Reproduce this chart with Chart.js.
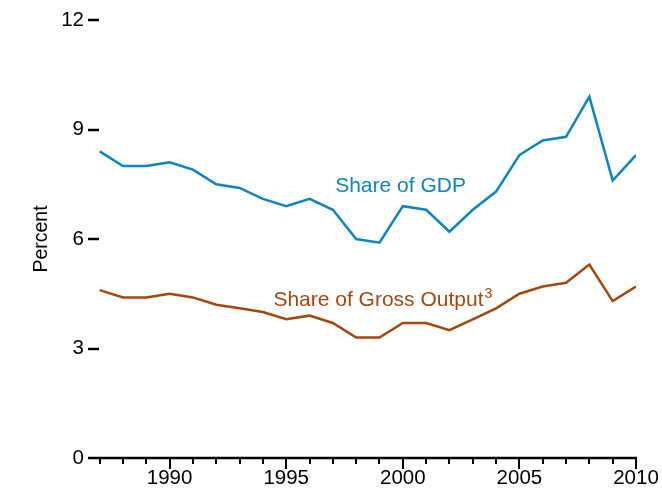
<!DOCTYPE html>
<html>
<head>
<meta charset="utf-8">
<script src="https://cdn.jsdelivr.net/npm/chart.js@4.4.1/dist/chart.umd.min.js"></script>
<style>
    html, body { margin: 0; padding: 0; background: #fff; }
    #wrap { width: 662px; height: 495px; }
</style>
</head>
<body>
<div id="wrap"><canvas id="chart" width="662" height="495"></canvas></div>
<script>
// Dados do gráfico
const years = [1987, 1988, 1989, 1990, 1991, 1992, 1993, 1994, 1995, 1996, 1997, 1998,
    1999, 2000, 2001, 2002, 2003, 2004, 2005, 2006, 2007, 2008, 2009, 2010];
const shareGDP = [8.4, 8.0, 8.0, 8.1, 7.9, 7.5, 7.4, 7.1, 6.9, 7.1, 6.8, 6.0,
    5.9, 6.9, 6.8, 6.2, 6.8, 7.3, 8.3, 8.7, 8.8, 9.9, 7.6, 8.3];
const shareGrossOutput = [4.6, 4.4, 4.4, 4.5, 4.4, 4.2, 4.1, 4.0, 3.8, 3.9, 3.7, 3.3,
    3.3, 3.7, 3.7, 3.5, 3.8, 4.1, 4.5, 4.7, 4.8, 5.3, 4.3, 4.7];
const yTicks = [0, 3, 6, 9, 12];

const BLUE = '#0b84c3';
const BROWN = '#a4470d';
const FONT = 'Liberation Sans, Arial, sans-serif';

// Rótulos das séries, em coordenadas de dados
const seriesLabels = [
    { text: 'Share of GDP', sup: '', x: 1997.1, y: 7.46, color: BLUE },
    { text: 'Share of Gross Output', sup: '3', x: 1994.45, y: 4.32, color: BROWN }
];

// Eixos desenhados à mão (linha do eixo x e marcas)
const axisPlugin = {
    id: 'axisPlugin',
    afterDraw(chart) {
        const ctx = chart.ctx;
        const xs = chart.scales.x;
        const ys = chart.scales.y;
        const y0 = ys.getPixelForValue(0);
        ctx.save();
        ctx.strokeStyle = '#000';
        ctx.lineWidth = 2.5;
        ctx.beginPath();
        ctx.moveTo(xs.left, y0);
        ctx.lineTo(xs.right + 1, y0);
        ctx.stroke();

        ctx.lineWidth = 2;
        years.forEach(yr => {
            const px = Math.round(xs.getPixelForValue(yr));
            const len = yr % 5 === 0 ? 11 : 6;
            ctx.beginPath();
            ctx.moveTo(px, y0);
            ctx.lineTo(px, y0 + len);
            ctx.stroke();
        });

        ctx.lineWidth = 2.5;
        yTicks.forEach(v => {
            if (v === 0) return;
            const py = Math.round(ys.getPixelForValue(v));
            ctx.beginPath();
            ctx.moveTo(xs.left, py);
            ctx.lineTo(xs.left + 11, py);
            ctx.stroke();
        });

        // Rótulos das linhas
        ctx.textBaseline = 'middle';
        ctx.textAlign = 'left';
        seriesLabels.forEach(l => {
            const px = xs.getPixelForValue(l.x);
            const py = ys.getPixelForValue(l.y);
            ctx.fillStyle = l.color;
            ctx.font = '21px ' + FONT;
            ctx.fillText(l.text, px, py);
            if (l.sup) {
                const w = ctx.measureText(l.text).width;
                ctx.font = '14px ' + FONT;
                ctx.fillText(l.sup, px + w + 1, py - 6);
            }
        });
        ctx.restore();
    }
};

function toPoints(values) {
    return years.map((yr, i) => ({ x: yr, y: values[i] }));
}

new Chart(document.getElementById('chart'), {
    type: 'line',
    data: {
        datasets: [
            {
                label: 'Share of GDP',
                data: toPoints(shareGDP),
                borderColor: BLUE,
                borderWidth: 2.5,
                pointRadius: 0,
                tension: 0
            },
            {
                label: 'Share of Gross Output',
                data: toPoints(shareGrossOutput),
                borderColor: BROWN,
                borderWidth: 2.5,
                pointRadius: 0,
                tension: 0
            }
        ]
    },
    options: {
        responsive: false,
        animation: false,
        layout: { padding: { top: 20, right: 26, bottom: 0, left: 0 } },
        plugins: {
            legend: { display: false },
            tooltip: { enabled: false }
        },
        scales: {
            x: {
                type: 'linear',
                min: 1986.5,
                max: 2010,
                afterBuildTicks(scale) {
                    scale.ticks = years.map(v => ({ value: v }));
                },
                afterFit(scale) {
                    scale.height = 37;
                    scale.paddingRight = 0;
                    scale.paddingLeft = 0;
                },
                ticks: {
                    autoSkip: false,
                    maxRotation: 0,
                    padding: 8,
                    color: '#000',
                    font: { family: FONT, size: 20.5 },
                    callback: v => (v % 5 === 0 ? String(v) : '')
                },
                grid: { display: false, drawTicks: false },
                border: { display: false }
            },
            y: {
                min: 0,
                max: 12,
                afterBuildTicks(scale) {
                    scale.ticks = yTicks.map(v => ({ value: v }));
                },
                afterFit(scale) {
                    scale.width = 88;
                },
                ticks: {
                    padding: 4,
                    color: '#000',
                    font: { family: FONT, size: 20.5 }
                },
                title: {
                    display: true,
                    text: 'Percent',
                    color: '#000',
                    font: { family: FONT, size: 19.5 },
                    padding: { top: 30, bottom: 0 }
                },
                grid: { display: false, drawTicks: false },
                border: { display: false }
            }
        }
    },
    plugins: [axisPlugin]
});
</script>
</body>
</html>
